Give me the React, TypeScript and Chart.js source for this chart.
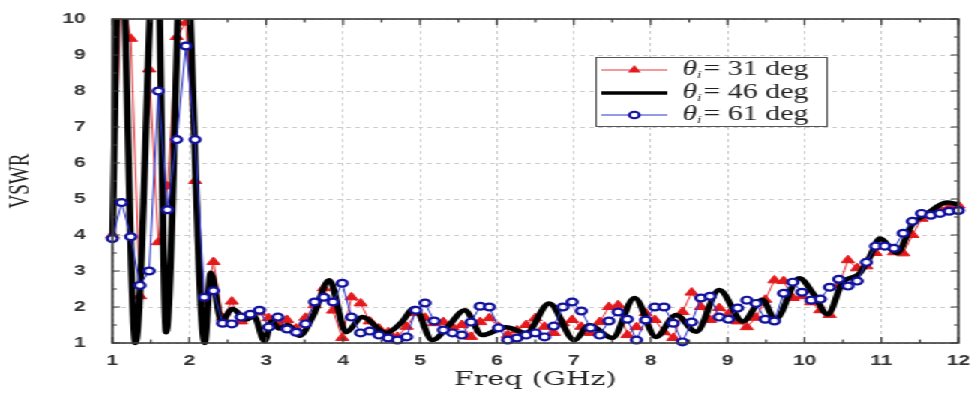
import React, { useEffect, useRef } from 'react';
import { Chart, registerables } from 'chart.js';

Chart.register(...registerables);

// The reference image is horizontally stretched; we draw at a narrower
// internal width and stretch the canvas by this factor.
const STRETCH = 1.5;
const W = 650;
const H = 394;

// ---------------- data ----------------
const freqStart = 1;
const freqEnd = 12;
const markerCount = 93;
// sampling frequencies of the marked series (GHz)
const freqGrid: number[] = Array.from({ length: markerCount }, (_, i) =>
  +(freqStart + (i * (freqEnd - freqStart)) / (markerCount - 1)).toFixed(4)
);

// θi = 31 deg (red, triangles)
const vswr31 = [
  4.0, 11, 9.45, 2.3, 8.6, 3.8, 5.35, 9.5, 9.9, 5.5,
  2.13, 3.25, 1.7, 2.15, 1.6, 1.75, 1.85, 1.69, 1.55, 1.64,
  1.4, 1.7, 2.05, 2.52, 1.9, 1.14, 2.27, 2.1, 1.6, 1.4,
  1.3, 1.17, 1.45, 1.83, 1.7, 1.55, 1.58, 1.44, 1.5, 1.17,
  1.58, 1.69, 1.45, 1.22, 1.35, 1.5, 1.69, 1.45, 1.28, 1.55,
  1.64, 1.45, 1.28, 1.58, 2.0, 2.05, 1.22, 1.44, 1.83, 1.64,
  1.3, 1.14, 1.86, 2.4, 2.0, 1.64, 1.97, 1.8, 1.6, 1.44,
  1.7, 2.2, 2.74, 2.72, 2.25, 2.3, 2.13, 1.91, 1.78, 2.6,
  3.3, 3.08, 3.13, 3.5, 3.75, 3.52, 3.49, 4.0, 4.45, 4.6,
  4.7, 4.78, 4.82,
];

// θi = 61 deg (blue, circles)
const vswr61 = [
  3.9, 4.9, 3.95, 2.6, 3.0, 8.0, 4.7, 6.65, 9.25, 6.65,
  2.27, 2.45, 1.55, 1.53, 1.72, 1.8, 1.91, 1.44, 1.72, 1.39,
  1.3, 1.53, 2.14, 2.27, 2.14, 2.66, 1.72, 1.28, 1.33, 1.22,
  1.14, 1.08, 1.17, 1.91, 2.11, 1.61, 1.36, 1.28, 1.22, 1.58,
  2.02, 2.0, 1.42, 1.08, 1.14, 1.22, 1.28, 1.17, 1.47, 2.0,
  2.14, 1.89, 1.42, 1.22, 1.61, 1.86, 1.66, 1.08, 1.64, 2.0,
  2.0, 1.55, 1.03, 1.58, 2.25, 2.3, 1.72, 1.66, 1.97, 2.19,
  2.1, 1.66, 1.61, 2.38, 2.69, 2.41, 2.19, 2.22, 2.55, 2.77,
  2.58, 2.72, 3.24, 3.69, 3.69, 3.63, 4.05, 4.38, 4.6, 4.55,
  4.6, 4.66, 4.68,
];

// θi = 46 deg (black, smooth curve)
const freq46 = [
  1.0, 1.1, 1.3, 1.575, 1.7, 1.925, 2.2,
  2.28, 2.42, 2.56, 2.74, 2.84, 2.98, 3.07, 3.17, 3.28, 3.43,
  3.62, 3.82, 4.04, 4.25, 4.56, 4.75, 4.93, 5.16, 5.38, 5.58,
  5.81, 6.12, 6.38, 6.68, 7.01, 7.2, 7.5, 7.79, 8.07, 8.33,
  8.59, 8.89, 9.2, 9.45, 9.62, 9.93, 10.12, 10.3, 10.5, 10.7,
  10.85, 10.98, 11.2, 11.4, 11.6, 11.85, 12.0,
];
const vswr46 = [
  3.8, 13, 1.0, 13, 1.3, 13, 1.0,
  2.95, 1.6, 1.95, 1.65, 1.75, 1.05, 1.6, 1.4, 1.5, 1.2,
  1.8, 2.74, 1.3, 1.72, 1.28, 1.55, 1.97, 1.08, 1.5, 1.91,
  1.22, 1.44, 1.28, 2.1, 1.08, 1.5, 1.14, 2.25, 1.17, 1.78,
  1.31, 2.47, 1.6, 2.2, 1.65, 2.8, 2.35, 1.8, 2.7, 2.9,
  3.4, 3.9, 3.5, 4.3, 4.6, 4.9, 4.85,
];

const angles = [31, 46, 61];
const xTicks = [1, 2, 3, 4, 5, 6, 7, 8, 9, 10, 11, 12];
const yTicks = [1, 2, 3, 4, 5, 6, 7, 8, 9, 10];

// ---------------- styles ----------------
const RED = '#e3191c';
const RED_LINE = '#e8353a';
const BLUE_LINE = '#2a34cc';
const BLUE_MARK = '#12129e';
const TEXT = '#222222';

const clipBox = { left: 6, top: 0, right: 6, bottom: 8 };

const framePlugin = {
  id: 'frameAndLegend',
  afterDraw(chart: any) {
    const { ctx, chartArea: a, scales } = chart;
    const x = scales.x;
    const y = scales.y;
    ctx.save();
    // frame
    ctx.strokeStyle = '#3a3a3a';
    ctx.lineWidth = 1.6;
    ctx.strokeRect(a.left, a.top, a.right - a.left, a.bottom - a.top);
    // inward ticks
    ctx.lineWidth = 1.2;
    ctx.beginPath();
    for (let v = xTicks[0]; v <= xTicks[xTicks.length - 1] + 1e-9; v += 0.5) {
      const px = x.getPixelForValue(v);
      const len = Math.abs(v - Math.round(v)) < 1e-6 ? 6 : 3.5;
      ctx.moveTo(px, a.bottom);
      ctx.lineTo(px, a.bottom - len);
      ctx.moveTo(px, a.top);
      ctx.lineTo(px, a.top + len);
    }
    for (let v = yTicks[0]; v <= yTicks[yTicks.length - 1] + 1e-9; v += 0.5) {
      const py = y.getPixelForValue(v);
      const len = Math.abs(v - Math.round(v)) < 1e-6 ? 5 : 3;
      ctx.moveTo(a.left, py);
      ctx.lineTo(a.left + len, py);
      ctx.moveTo(a.right, py);
      ctx.lineTo(a.right - len, py);
    }
    ctx.stroke();

    // legend box
    const bx = 397;
    const by = 57;
    const bw = 154;
    const bh = 69;
    ctx.fillStyle = '#ffffff';
    ctx.fillRect(bx, by, bw, bh);
    ctx.strokeStyle = '#555555';
    ctx.lineWidth = 1;
    ctx.strokeRect(bx + 0.5, by + 0.5, bw, bh);

    const rowY = [70, 93, 115];
    const lx0 = bx + 4;
    const lx1 = bx + 48;
    const mx = (lx0 + lx1) / 2;
    angles.forEach((ang, i) => {
      const ry = rowY[i];
      ctx.beginPath();
      ctx.moveTo(lx0, ry);
      ctx.lineTo(lx1, ry);
      if (i === 0) {
        ctx.strokeStyle = RED_LINE;
        ctx.lineWidth = 1;
        ctx.stroke();
        const r = 5;
        ctx.beginPath();
        ctx.moveTo(mx, ry - r);
        ctx.lineTo(mx + r * 0.866, ry + r * 0.5);
        ctx.lineTo(mx - r * 0.866, ry + r * 0.5);
        ctx.closePath();
        ctx.fillStyle = RED;
        ctx.fill();
      } else if (i === 1) {
        ctx.strokeStyle = '#000000';
        ctx.lineWidth = 3.5;
        ctx.stroke();
      } else {
        ctx.strokeStyle = BLUE_LINE;
        ctx.lineWidth = 1;
        ctx.stroke();
        ctx.beginPath();
        ctx.arc(mx, ry, 3.3, 0, Math.PI * 2);
        ctx.fillStyle = '#ffffff';
        ctx.fill();
        ctx.strokeStyle = BLUE_MARK;
        ctx.lineWidth = 2;
        ctx.stroke();
      }
      // text
      ctx.fillStyle = TEXT;
      ctx.textBaseline = 'middle';
      ctx.textAlign = 'left';
      let tx = bx + 58;
      ctx.font = 'italic 20px "Liberation Serif", "Times New Roman", serif';
      ctx.fillText('θ', tx, ry);
      tx += ctx.measureText('θ').width;
      ctx.font = 'italic 11px "Liberation Serif", "Times New Roman", serif';
      ctx.fillText('i', tx, ry + 5);
      tx += ctx.measureText('i').width;
      ctx.font = '20px "Liberation Serif", "Times New Roman", serif';
      ctx.fillText(`= ${ang} deg`, tx + 1, ry);
    });
    ctx.restore();
  },
};

export default function App() {
  const canvasRef = useRef<HTMLCanvasElement | null>(null);

  useEffect(() => {
    const canvas = canvasRef.current;
    if (!canvas) return;
    const tickFont = { family: '"Liberation Sans", Arial, sans-serif', size: 14, weight: 'bold' as const };
    const chart = new Chart(canvas, {
      type: 'line',
      data: {
        datasets: [
          {
            label: `θi = ${angles[0]} deg`,
            data: freqGrid.map((f, i) => ({ x: f, y: vswr31[i] })),
            borderColor: RED_LINE,
            borderWidth: 1,
            pointStyle: 'triangle',
            pointRadius: 5,
            pointBackgroundColor: RED,
            pointBorderColor: RED,
            pointBorderWidth: 1,
            tension: 0,
            order: 3,
            clip: clipBox,
          },
          {
            label: `θi = ${angles[1]} deg`,
            data: freq46.map((f, i) => ({ x: f, y: vswr46[i] })),
            borderColor: '#000000',
            borderWidth: 4.5,
            pointRadius: 0,
            cubicInterpolationMode: 'monotone',
            order: 2,
            clip: clipBox,
          },
          {
            label: `θi = ${angles[2]} deg`,
            data: freqGrid.map((f, i) => ({ x: f, y: vswr61[i] })),
            borderColor: BLUE_LINE,
            borderWidth: 1,
            pointStyle: 'circle',
            pointRadius: 3.4,
            pointBackgroundColor: '#ffffff',
            pointBorderColor: BLUE_MARK,
            pointBorderWidth: 2.2,
            tension: 0,
            order: 1,
            clip: clipBox,
          },
        ],
      },
      options: {
        responsive: false,
        animation: false,
        devicePixelRatio: 1,
        layout: { autoPadding: false, padding: { left: 0, right: 11, top: 19, bottom: 0 } },
        plugins: {
          legend: { display: false },
          tooltip: { enabled: false },
        },
        scales: {
          x: {
            type: 'linear',
            min: xTicks[0],
            max: xTicks[xTicks.length - 1],
            afterBuildTicks: (s: any) => {
              s.ticks = xTicks.map((v) => ({ value: v }));
            },
            grid: {
              color: '#cccccc',
              lineWidth: 1,
              drawTicks: true,
              tickLength: 8,
              tickColor: 'rgba(0,0,0,0)',
            },
            border: { display: false, dash: [3, 3] },
            ticks: {
              padding: 2,
              color: '#333333',
              font: tickFont,
              maxRotation: 0,
              autoSkip: false,
            },
            title: {
              display: true,
              text: 'Freq (GHz)',
              color: TEXT,
              font: { family: '"DejaVu Serif", serif', size: 19 },
              padding: { top: 0, bottom: 3 },
            },
            afterFit: (s: any) => {
              s.height = 51;
            },
          },
          y: {
            type: 'linear',
            min: yTicks[0],
            max: yTicks[yTicks.length - 1],
            afterBuildTicks: (s: any) => {
              s.ticks = yTicks.map((v) => ({ value: v }));
            },
            grid: {
              color: '#cccccc',
              lineWidth: 1,
              drawTicks: true,
              tickLength: 16,
              tickColor: 'rgba(0,0,0,0)',
            },
            border: { display: false, dash: [3, 3] },
            ticks: {
              padding: 2,
              color: '#333333',
              font: tickFont,
            },
            title: {
              display: true,
              text: 'VSWR',
              color: TEXT,
              font: { family: '"Liberation Serif", serif', size: 19 },
              padding: { top: 3, bottom: 0 },
            },
            afterFit: (s: any) => {
              s.width = 75;
            },
          },
        },
      },
      plugins: [framePlugin],
    } as any);
    return () => {
      chart.destroy();
    };
  }, []);

  return (
    <div
      style={{
        position: 'fixed',
        left: 0,
        top: 0,
        width: W,
        height: H,
        transform: `scaleX(${STRETCH})`,
        transformOrigin: '0 0',
        background: '#ffffff',
      }}
    >
      <canvas ref={canvasRef} width={W} height={H} />
    </div>
  );
}
